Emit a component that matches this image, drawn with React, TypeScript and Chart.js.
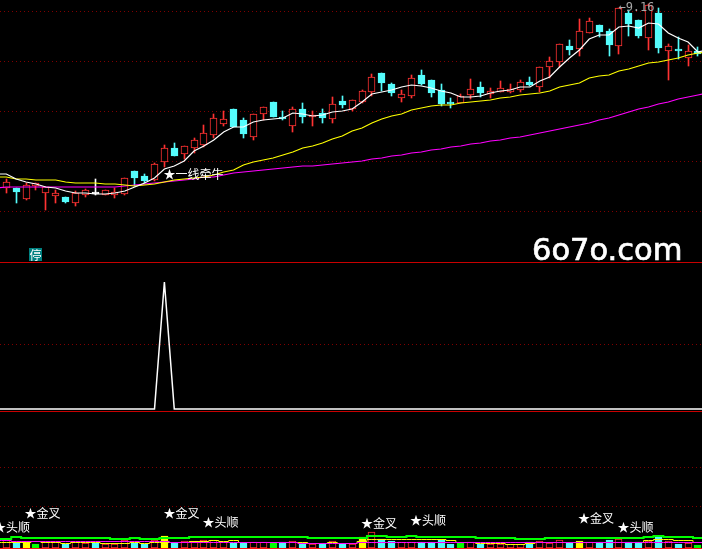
import { useEffect, useRef } from "react"
import { Chart, registerables } from "chart.js"

Chart.register(...registerables)

// daily candles, price panel
const opens = [5.58,5.56,5.36,5.62,5.48,5.42,5.38,5.28,5.44,5.46,5.44,5.44,5.46,5.90,5.80,5.74,6.10,6.36,6.26,6.38,6.44,6.64,6.86,7.14,6.92,6.60,7.06,7.28,6.98,6.82,7.14,7.00,7.06,6.96,7.30,7.16,7.30,7.50,7.86,7.64,7.38,7.42,7.82,7.72,7.52,7.28,7.28,7.44,7.58,7.46,7.50,7.50,7.54,7.68,7.60,8.00,8.10,8.40,8.36,8.68,8.82,8.70,8.42,9.06,8.92,8.58,9.06,8.32,8.34,8.18,8.30]
const closes = [5.68,5.50,5.62,5.66,5.58,5.46,5.30,5.46,5.52,5.46,5.52,5.48,5.76,5.78,5.72,6.04,6.36,6.22,6.40,6.52,6.66,6.96,6.94,6.80,6.66,7.04,7.18,7.00,6.96,7.14,7.00,7.02,6.98,7.24,7.24,7.32,7.50,7.78,7.68,7.48,7.44,7.76,7.66,7.48,7.26,7.26,7.40,7.54,7.48,7.50,7.56,7.54,7.68,7.64,7.98,8.10,8.44,8.34,8.70,8.90,8.70,8.44,9.16,8.86,8.62,9.22,8.38,8.40,8.32,8.30,8.26]
const highs = [5.74,5.56,5.66,5.66,5.58,5.52,5.38,5.50,5.54,5.74,5.52,5.56,5.76,5.90,5.84,6.06,6.42,6.46,6.40,6.56,6.82,7.04,7.10,7.14,6.96,7.04,7.18,7.28,7.10,7.18,7.26,7.10,7.14,7.38,7.40,7.32,7.52,7.84,7.86,7.66,7.52,7.82,7.92,7.72,7.64,7.36,7.44,7.74,7.68,7.56,7.70,7.64,7.72,7.78,7.98,8.18,8.44,8.52,8.94,8.96,8.82,8.74,9.16,9.12,8.92,9.24,9.16,8.44,8.58,8.42,8.38]
const lows = [5.48,5.28,5.34,5.54,5.14,5.28,5.28,5.22,5.40,5.44,5.44,5.38,5.44,5.62,5.68,5.72,6.00,6.22,6.16,6.28,6.40,6.58,6.82,6.80,6.58,6.54,6.94,7.00,6.94,6.70,6.88,6.82,6.88,6.88,7.18,7.12,7.28,7.42,7.52,7.42,7.30,7.38,7.64,7.40,7.22,7.18,7.28,7.36,7.40,7.38,7.50,7.48,7.50,7.62,7.50,7.78,8.00,8.24,8.22,8.68,8.60,8.22,8.26,8.62,8.58,8.34,8.28,7.74,8.16,8.02,8.22]

// moving averages, one extra point each side so the lines reach the edges
const maShort = [5.84,5.84,5.74,5.68,5.64,5.58,5.56,5.50,5.46,5.46,5.44,5.44,5.46,5.50,5.58,5.66,5.76,5.94,6.00,6.10,6.30,6.40,6.52,6.68,6.78,6.78,6.88,6.92,6.94,6.96,7.06,7.04,7.00,7.02,7.08,7.10,7.14,7.28,7.44,7.48,7.52,7.58,7.62,7.60,7.56,7.50,7.46,7.38,7.38,7.40,7.46,7.50,7.52,7.58,7.58,7.70,7.78,7.98,8.16,8.32,8.54,8.62,8.62,8.78,8.80,8.76,8.86,8.84,8.66,8.56,8.48,8.28,8.32]
const maMid = [5.78,5.78,5.74,5.74,5.72,5.72,5.72,5.68,5.66,5.66,5.66,5.64,5.64,5.62,5.60,5.62,5.64,5.68,5.72,5.74,5.76,5.78,5.82,5.88,5.92,6.02,6.08,6.12,6.16,6.22,6.28,6.36,6.40,6.46,6.54,6.60,6.70,6.76,6.86,6.94,7.00,7.04,7.12,7.16,7.20,7.22,7.22,7.26,7.28,7.30,7.32,7.36,7.38,7.42,7.44,7.46,7.50,7.58,7.62,7.66,7.76,7.80,7.82,7.90,7.94,8.00,8.06,8.08,8.12,8.16,8.22,8.26,8.28]
const maLong = [5.56,5.58,5.58,5.58,5.58,5.58,5.58,5.58,5.58,5.58,5.58,5.58,5.58,5.60,5.62,5.64,5.66,5.68,5.70,5.72,5.74,5.78,5.78,5.82,5.86,5.88,5.90,5.92,5.94,5.96,5.98,6.00,6.00,6.02,6.04,6.06,6.08,6.10,6.14,6.16,6.20,6.22,6.26,6.28,6.32,6.34,6.38,6.40,6.44,6.46,6.50,6.52,6.56,6.58,6.62,6.66,6.70,6.74,6.78,6.82,6.86,6.92,6.96,7.02,7.08,7.14,7.18,7.24,7.28,7.34,7.38,7.42,7.46]

// middle panel signal
const signal = [0,0,0,0,0,0,0,0,0,0,0,0,0,0,0,0,0,1,0,0,0,0,0,0,0,0,0,0,0,0,0,0,0,0,0,0,0,0,0,0,0,0,0,0,0,0,0,0,0,0,0,0,0,0,0,0,0,0,0,0,0,0,0,0,0,0,0,0,0,0,0,0,0]

// bottom panel, yellow and magenta sit half a unit off so their 1px lines stay on one pixel row
const volumes = [7,5,4,3,5,5,3,5,4,4,3,3,7,4,3,7,11,4,6,6,7,7,5,4,4,5,5,4,5,6,4,3,3,6,3,3,10,15,8,6,5,5,5,5,7,3,4,5,3,3,3,3,3,5,6,4,7,4,6,5,5,7,8,5,5,6,10,6,3,4,2]
const volumeKinds = "rcygrrcrrcrrrccrycrrrrrccrrgcrcrcrcryrccrrccccgrcrrrrcrrrcyrccrccrcrcrg".slice(0, 71)
const lineGreen = [8,8,10,9,9,9,9,9,9,9,9,9,8,8,9,8,8,9,9,9,10,10,10,10,10,10,10,10,10,10,10,10,9,9,9,9,9,9,11,11,10,10,11,10,10,10,10,10,10,9,9,9,9,8,8,8,9,9,9,9,9,9,9,9,9,9,10,11,10,10,10,9,9]
const lineYellow = [4.5,4.5,4.5,4.5,5.5,4.5,4.5,3.5,4.5,4.5,4.5,3.5,3.5,3.5,4.5,3.5,4.5,4.5,4.5,4.5,5.5,5.5,6.5,5.5,6.5,4.5,4.5,4.5,4.5,4.5,4.5,4.5,3.5,3.5,4.5,3.5,3.5,5.5,7.5,7.5,7.5,7.5,7.5,7.5,7.5,7.5,6.5,4.5,4.5,3.5,3.5,3.5,2.5,2.5,3.5,4.5,4.5,4.5,4.5,4.5,4.5,4.5,4.5,4.5,4.5,4.5,6.5,7.5,7.5,6.5,6.5,4.5,4.5]
const lineMagenta = [6.5,6.5,5.5,5.5,5.5,5.5,5.5,5.5,5.5,5.5,5.5,5.5,5.5,5.5,5.5,5.5,5.5,5.5,4.5,4.5,4.5,4.5,4.5,4.5,4.5,4.5,4.5,4.5,4.5,4.5,4.5,3.5,3.5,3.5,3.5,3.5,3.5,4.5,4.5,4.5,4.5,4.5,4.5,4.5,4.5,4.5,4.5,4.5,4.5,4.5,4.5,4.5,4.5,4.5,4.5,4.5,4.5,4.5,4.5,4.5,4.5,4.5,4.5,4.5,4.5,4.5,4.5,4.5,4.5,4.5,4.5,4.5,4.5]

// price panel / signal panel / bottom panel grid levels
const priceTicks = [5.1, 6.1, 7.1, 8.1, 9.1]
const signalTicks = [0.504]
const bottomTicks = [41, 80]

const highLabel = "←9.16"
const watermark = "6o7o.com"
const stopLabel = "停"
const trendLabel = "★一线牵牛"
const bottomLabels = ["★头顺", "★金叉", "★金叉", "★头顺", "★金叉", "★头顺", "★金叉", "★头顺"]
const bottomLabelX = [-1.25, 1.85, 15.9, 19.85, 35.9, 40.85, 57.85, 61.85]
const bottomLabelY = [20, 34, 34, 25, 24, 27, 29, 20]

const RED = "#ff3232"
const CYAN = "#54fcfc"
const GRID = "#800000"

const kindColor = (k: string) => (k === "r" ? RED : k === "c" ? CYAN : k === "y" ? "#ffff00" : "#00ff00")
const candleColor = (i: number) => (closes[i] > opens[i] ? RED : closes[i] < opens[i] ? CYAN : "#ffffff")
const toLine = (values: number[]) => values.map((v, i) => ({ x: i - 1, y: v }))

const fixedTicks = (list: number[]) => (scale: any) => {
    scale.ticks = list.map(value => ({ value }))
}

const panelScale = (min: number, max: number, weight: number, stackWeight: number, list: number[]) => ({
    type: "linear" as const,
    position: "left" as const,
    stack: "panels",
    stackWeight,
    weight,
    min,
    max,
    afterBuildTicks: fixedTicks(list),
    ticks: { display: false, autoSkip: false },
    border: { display: false, dash: [1, 3] },
    grid: { color: GRID, lineWidth: 1, drawTicks: false },
})

// snap bars to whole pixels, the original is drawn without antialiasing
const snapPlugin = {
    id: "snap",
    beforeDatasetsDraw(chart: any) {
        chart.getSortedVisibleDatasetMetas().forEach((meta: any) => {
            if (meta.type !== "bar") return
            meta.data.forEach((bar: any) => {
                const top = Math.round(Math.min(bar.y, bar.base))
                const bottom = Math.round(Math.max(bar.y, bar.base)) + 1
                bar.x = Math.floor(bar.x) + 0.5
                bar.y = top
                bar.base = bottom
            })
        })
    },
}

const overlayPlugin = {
    id: "overlay",
    afterDraw(chart: any) {
        const { ctx, scales } = chart
        const { x, y, y2, y3 } = scales
        ctx.save()

        ctx.fillStyle = "#c80000"
        ctx.fillRect(0, Math.round(y.bottom), 702, 1)
        ctx.fillRect(0, Math.round(y2.bottom), 702, 1)
        ctx.fillStyle = "#ff1010"
        ctx.fillRect(0, Math.round(y3.bottom) - 1, 702, 1)

        ctx.textBaseline = "middle"
        ctx.textAlign = "left"

        ctx.fillStyle = "#ffffff"
        ctx.strokeStyle = "#ffffff"
        ctx.lineWidth = 0.7
        ctx.font = "30.5px 'DejaVu Sans'"
        ctx.fillText(watermark, 532, 252)
        ctx.strokeText(watermark, 532, 252)

        ctx.font = "12px 'Noto Sans CJK SC'"
        ctx.fillText(trendLabel, x.getPixelForValue(15.9), y.getPixelForValue(5.84))
        bottomLabels.forEach((text, i) => {
            ctx.fillText(text, x.getPixelForValue(bottomLabelX[i]), y3.getPixelForValue(bottomLabelY[i]))
        })

        ctx.fillStyle = "#008080"
        ctx.fillRect(29, 248, 13, 13)
        ctx.fillStyle = "#ffffff"
        ctx.fillText(stopLabel, 29.5, 255)

        ctx.fillStyle = "#a8a8a8"
        ctx.font = "12px 'DejaVu Sans Mono'"
        ctx.fillText(highLabel, x.getPixelForValue(61.95), y.getPixelForValue(9.16))
        ctx.restore()
    },
}

export default function App() {
    const canvasRef = useRef<HTMLCanvasElement>(null)

    useEffect(() => {
        if (!canvasRef.current) return
        const index = opens.map((_, i) => i)

        const chart = new Chart(canvasRef.current, {
            type: "bar",
            data: {
                datasets: [
                    {
                        // wicks
                        type: "bar",
                        order: 10,
                        yAxisID: "y",
                        grouped: false,
                        barThickness: 1,
                        data: index.map(i => ({ x: i, y: [lows[i], highs[i]] })),
                        backgroundColor: index.map(candleColor),
                    },
                    {
                        // bodies, red ones are hollow
                        type: "bar",
                        order: 9,
                        yAxisID: "y",
                        grouped: false,
                        barThickness: 7,
                        minBarLength: 1,
                        borderWidth: 1,
                        borderSkipped: false,
                        data: index.map(i => ({ x: i, y: [opens[i], closes[i]] })),
                        backgroundColor: index.map(i => (closes[i] > opens[i] ? "#000000" : candleColor(i))),
                        borderColor: index.map(candleColor),
                    },
                    { type: "line", order: 3, yAxisID: "y", data: toLine(maLong), borderColor: "#ff00ff", borderWidth: 1.2, pointRadius: 0 },
                    { type: "line", order: 2, yAxisID: "y", data: toLine(maMid), borderColor: "#ffff00", borderWidth: 1.2, pointRadius: 0 },
                    { type: "line", order: 1, yAxisID: "y", data: toLine(maShort), borderColor: "#ffffff", borderWidth: 1.2, pointRadius: 0 },
                    { type: "line", order: 1, yAxisID: "y2", data: toLine(signal), borderColor: "#ffffff", borderWidth: 1.5, pointRadius: 0 },
                    {
                        type: "bar",
                        order: 8,
                        yAxisID: "y3",
                        grouped: false,
                        barThickness: 7,
                        borderWidth: 1,
                        borderSkipped: false,
                        data: index.map(i => ({ x: i, y: volumes[i] })),
                        backgroundColor: index.map(i => (volumeKinds[i] === "r" ? "#000000" : kindColor(volumeKinds[i]))),
                        borderColor: index.map(i => kindColor(volumeKinds[i])),
                    },
                    { type: "line", order: 4, yAxisID: "y3", stepped: "middle", data: toLine(lineYellow), borderColor: "#ffff00", borderWidth: 1, pointRadius: 0 },
                    { type: "line", order: 3, yAxisID: "y3", stepped: "middle", data: toLine(lineMagenta), borderColor: "#ff00ff", borderWidth: 1, pointRadius: 0 },
                    { type: "line", order: 2, yAxisID: "y3", stepped: "middle", data: toLine(lineGreen), borderColor: "#00ff00", borderWidth: 2, pointRadius: 0 },
                ] as any,
            },
            options: {
                animation: false,
                responsive: false,
                devicePixelRatio: 1,
                events: [],
                layout: { padding: 0 },
                plugins: { legend: { display: false }, tooltip: { enabled: false } },
                scales: {
                    x: { type: "linear", display: false, offset: false, min: -0.637, max: 70.41 },
                    y: panelScale(4.08, 9.32, 2, 262, priceTicks),
                    y2: panelScale(-0.0157, 1.157, 1, 149, signalTicks),
                    y3: panelScale(-2, 136, 0, 138, bottomTicks),
                } as any,
            },
            plugins: [snapPlugin, overlayPlugin],
        })

        return () => chart.destroy()
    }, [])

    return (
        <div style={{ position: "fixed", left: 0, top: 0, width: 702, height: 549, background: "#000" }}>
            <canvas ref={canvasRef} width={702} height={549} style={{ display: "block" }} />
        </div>
    )
}
